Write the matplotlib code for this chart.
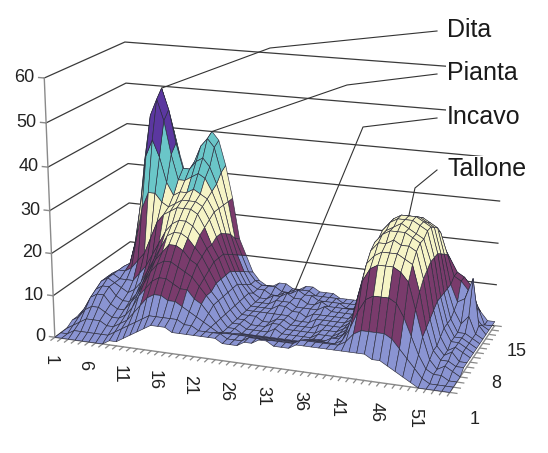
import numpy as np
import matplotlib
matplotlib.use('Agg')
import matplotlib.pyplot as plt
from matplotlib.colors import to_rgba
from matplotlib.lines import Line2D
from mpl_toolkits.mplot3d import proj3d

plt.rcParams['font.family'] = ['Liberation Sans', 'DejaVu Sans']

# ---------------- data ----------------
x_values = list(range(1, 56))
y_values = list(range(1, 16))

row_y01 = [0,0,0,0, 0,0,0,0,1,1, 2,3,4,5,6,6,6, 5,5,5,5,5, 5,5,4,4,4,5,5,6,6,5,5,5,6,6,6,6, 6,6,6,6,6,6,5,5,4,3,2,1,0,0, 0,0,0]
row_y02 = [0,0,1,1, 1,1,1,1,2,3, 4,5,6,7,7,7,7, 7,6,6,5,5, 5,5,4,4,4,5,5,5,5,5,5,5,6,6,6,6, 6,6,7,9,10,10,10,10,9,7,5,3,1,0, 0,0,0]
row_y03 = [0,1,2,3, 3,3,2,2,3,4, 6,8,10,11,11,10,10, 9,8,7,6,5, 4,4,4,4,4,4,4,4,4,4,4,4,5,5,5,5, 5,6,9,13,16,17,17,17,16,13,9,5,2,1, 1,0,0]
row_y04 = [1,2,4,5, 5,4,3,3,4,6, 9,11,13,14,14,13,12, 12,10,9,7,5, 3,3,3,3,3,3,3,3,3,3,3,3,4,4,4,5, 5,7,12,19,22,23,23,23,22,20,14,8,3,1, 2,1,0]
row_y05 = [1,3,6,7, 7,5,4,4,6,8, 11,14,16,17,17,16,15, 14,12,10,8,5, 3,3,2,2,2,2,2,2,2,2,2,2,3,3,3,4, 5,8,15,22,24,25,25,25,24,23,17,9,4,2, 2,1,1]
row_y06 = [1,4,7,8, 8,6,5,5,7,10, 13,16,18,20,20,19,17, 16,13,10,8,5, 3,3,2,2,2,2,3,2,2,2,2,2,3,3,3,4, 5,9,17,24,26,26,27,26,26,25,19,10,4,2, 3,1,1]
row_y07 = [2,5,8,9, 8,7,6,7,9,12, 15,18,21,22,22,21,19, 17,14,11,8,5, 3,3,2,2,2,3,3,2,2,2,2,2,3,3,3,4, 5,9,18,25,27,28,28,28,27,26,20,11,5,2, 3,2,1]
row_y08 = [2,5,8,9, 8,8,8,10,12,15, 18,21,23,24,24,23,21, 18,15,11,8,5, 3,3,3,2,2,3,3,2,2,2,2,3,3,3,3,4, 5,9,18,25,27,28,29,28,27,26,21,12,6,3, 3,2,1]
row_y09 = [2,5,8,9, 9,10,12,14,18,22, 24,25,26,26,26,25,22, 18,15,11,8,5, 3,3,3,3,3,3,3,2,2,2,3,3,3,3,3,4, 5,9,18,26,28,29,29,29,28,27,21,12,6,3, 3,2,1]
row_y10 = [2,4,7,9, 10,16,24,28,28,26, 25,26,27,27,27,26,23, 19,15,11,8,5, 3,3,3,3,4,4,3,3,2,3,3,3,3,3,3,4, 5,9,18,26,28,29,29,29,28,27,21,12,6,3, 3,2,1]
row_y11 = [1,3,6,8, 14,24,36,40,36,30, 27,28,28,29,28,27,24, 19,14,10,7,5, 3,3,3,4,4,4,3,3,3,3,4,3,3,3,3,4, 5,9,17,25,27,28,28,28,27,26,20,12,7,4, 6,2,1]
row_y12 = [1,3,5,8, 18,34,45,49,44,36, 30,30,31,32,31,28,24, 18,13,9,6,4, 3,3,4,4,5,4,4,3,3,4,3,3,3,3,3,3, 5,8,15,22,25,26,27,27,26,25,19,12,8,9, 14,3,1]
row_y13 = [1,2,4,6, 20,36,46,51,46,38, 32,32,34,35,33,29,24, 17,12,8,5,4, 4,3,3,4,4,5,4,4,3,3,3,3,2,2,3,3, 4,7,12,18,22,24,25,25,24,23,18,13,12,10, 4,2,1]
row_y14 = [1,2,3,4, 12,28,42,46,40,32, 29,33,37,39,37,31,24, 15,11,7,5,4, 4,4,3,3,4,4,4,3,3,3,3,2,2,2,2,3, 3,5,9,13,16,18,20,20,20,19,16,13,12,10, 5,1,1]
row_y15 = [1,1,2,3, 8,18,32,38,34,28, 28,33,37,40,38,32,24, 14,10,6,4,3, 3,4,4,3,3,4,4,3,3,3,2,2,2,2,2,2, 2,3,4,6,8,10,11,12,12,12,12,11,10,6, 3,1,1]

pressure = [row_y01, row_y02, row_y03, row_y04, row_y05, row_y06, row_y07,
            row_y08, row_y09, row_y10, row_y11, row_y12, row_y13, row_y14, row_y15]

band_edges = [0, 10, 20, 30, 40, 50, 60]
band_colors = ['#8a94d2', '#7a3b6c', '#f6f4c6', '#6ac6c8', '#5b37a0', '#b86a6a']

z_ticks = [0, 10, 20, 30, 40, 50, 60]
x_label_ticks = [1, 6, 11, 16, 21, 26, 31, 36, 41, 46, 51]
y_label_ticks = [1, 8, 15]

region_names = ['Dita', 'Pianta', 'Incavo', 'Tallone']
region_points = [(8, 13), (14, 15), (27, 14), (45, 10)]   # (x, y) grid positions
label_pos_px = [(447, 30), (447, 73), (447, 117), (447, 169)]
knee_px = [(270, 48), (347, 85), (363, 127), (415, 188)]

# ---------------- figure ----------------
W, H = 548, 453
fig = plt.figure(figsize=(W / 100, H / 100), dpi=100)
ax = fig.add_axes([-0.058, -0.05, 1.10, 1.16], projection='3d', computed_zorder=False)

X, Y = np.meshgrid(x_values, y_values)
Z = np.array(pressure, dtype=float)
ny, nx = Z.shape
avg = (Z[:-1, :-1] + Z[1:, :-1] + Z[:-1, 1:] + Z[1:, 1:]) / 4.0
idx = np.clip(np.digitize(avg, band_edges) - 1, 0, len(band_colors) - 1)
rgba = np.array([to_rgba(c) for c in band_colors])
fc = np.zeros((ny, nx, 4))
fc[:-1, :-1] = rgba[idx]

axis_grey = '#8a8a8a'
# wall grid lines (left wall x=1 and back wall y=15)
for zt in z_ticks:
    ax.plot([1, 1, 55], [1, 15, 15], [zt, zt, zt], color='#3a3a3a', lw=0.9, zorder=1)

# vertical value axis at the front-left corner
ax.plot([1, 1], [1, 1], [0, 60], color=axis_grey, lw=1.0, zorder=1)
for zt in z_ticks:
    ax.plot([1, 0.2], [1, 1], [zt, zt], color=axis_grey, lw=1.0, zorder=1)

# category tick marks on the front (x) and right (y) edges
for xv in x_values:
    ax.plot([xv, xv], [1, 0.35], [0, 0], color=axis_grey, lw=0.9, zorder=1)
for yv in y_values:
    ax.plot([55, 55.9], [yv, yv], [0, 0], color=axis_grey, lw=0.9, zorder=1)

ax.plot_surface(X, Y, Z, rstride=1, cstride=1, facecolors=fc,
                edgecolor='#2d2d3d', linewidth=0.45, shade=False,
                antialiased=True, zorder=3)

ax.set_xlim(1, 55)
ax.set_ylim(1, 15)
ax.set_zlim(0, 60)
ax.set_proj_type('persp', focal_length=0.6)
ax.view_init(elev=17, azim=-70)
ax.set_box_aspect((4.9, 2.2, 3.2), zoom=0.97)

ax.grid(False)
for a in (ax.xaxis, ax.yaxis, ax.zaxis):
    a.set_pane_color((1, 1, 1, 0))
    a.pane.set_edgecolor((1, 1, 1, 0))
    a.line.set_color(axis_grey)
    a.line.set_linewidth(1.0)
    a.label.set_visible(False)
    a.offsetText.set_visible(False)
ax.zaxis.line.set_color((1, 1, 1, 0))

ax.set_xticks(x_label_ticks)
ax.set_xticklabels([str(v) for v in x_label_ticks], rotation=-90, fontsize=13)
ax.set_yticks(y_label_ticks)
ax.set_yticklabels([str(v) for v in y_label_ticks], fontsize=13)
ax.set_zticks([])
ax.tick_params(axis='x', colors=(1, 1, 1, 0), labelcolor='#222222')
ax.tick_params(axis='y', colors=(1, 1, 1, 0), labelcolor='#222222')

fig.canvas.draw()
M = ax.get_proj()


def to_fig(px, py, pz):
    xs, ys, _ = proj3d.proj_transform(px, py, pz, M)
    dx, dy = ax.transData.transform((xs, ys))
    return dx / W, dy / H


# value-axis labels placed at the projected tick positions
for zt in z_ticks:
    fx, fy = to_fig(0.2, 1, zt)
    fig.text(fx - 4 / W, fy, str(zt), fontsize=13, color='#222222',
             ha='right', va='center')

for name, (gx, gy), (lx, ly), (kx, ky) in zip(region_names, region_points, label_pos_px, knee_px):
    ex, ey = to_fig(gx, gy, Z[gy - 1, gx - 1])
    pts_x = [(lx - 10) / W, kx / W, ex]
    pts_y = [1 - (ly + 1) / H, 1 - ky / H, ey]
    fig.add_artist(Line2D(pts_x, pts_y, transform=fig.transFigure,
                          color='#333333', lw=0.8))
    fig.text(lx / W, 1 - ly / H, name, fontsize=18, color='#1a1a1a',
             ha='left', va='center',
             bbox=dict(facecolor='white', edgecolor='none', pad=1.0))

fig.savefig('out.png', dpi=100)
